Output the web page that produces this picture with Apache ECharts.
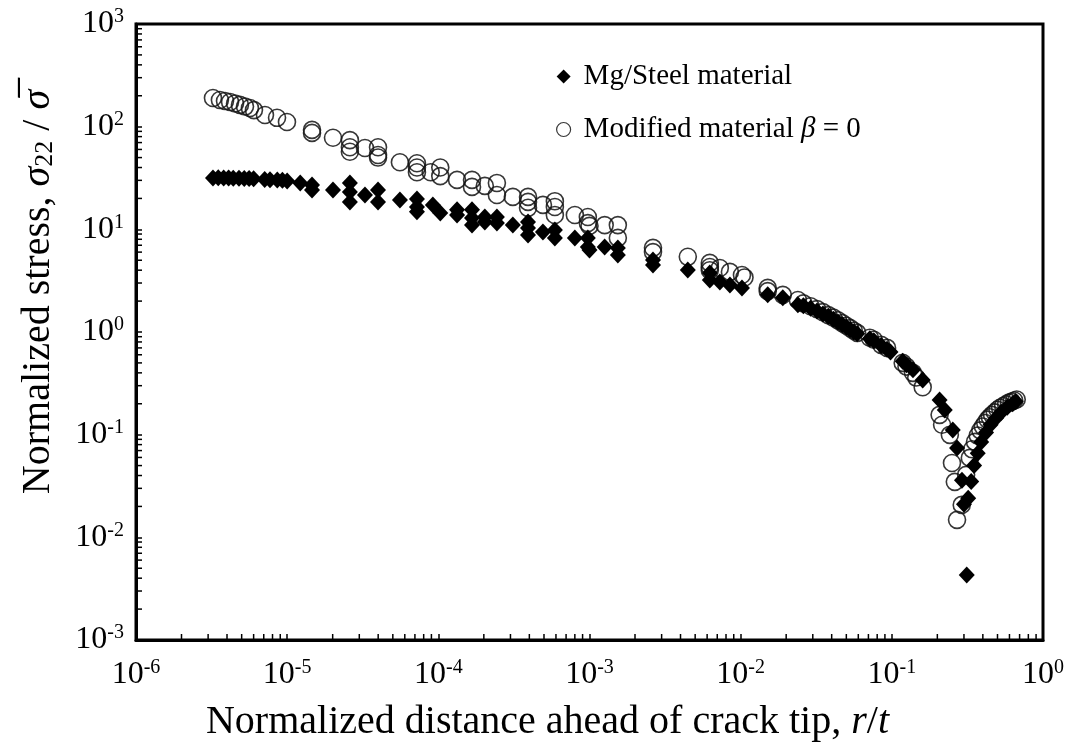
<!DOCTYPE html>
<html>
<head>
<meta charset="utf-8">
<script src="https://cdn.jsdelivr.net/npm/echarts@6/dist/echarts.min.js"></script>
<style>
  html, body { margin: 0; padding: 0; background: #fff; }
  #chart { width: 1073px; height: 755px; }
</style>
</head>
<body>
<div id="chart"></div>
<script>
// Normalized stress sigma_22 / sigma-bar ahead of the crack tip, vs r/t (log-log)

// Mg/Steel material
const mgX = [3.23e-6, 3.5e-6, 3.8e-6, 4.1e-6, 4.4e-6, 4.8e-6, 5.2e-6, 5.6e-6, 6.0e-6, 7.1e-6, 7.7e-6, 8.6e-6, 9.3e-6, 1.0e-5,
  1.22e-5, 1.46e-5, 1.46e-5, 2.01e-5, 2.6e-5, 2.6e-5, 2.6e-5, 3.27e-5, 3.99e-5, 3.99e-5, 5.57e-5, 7.22e-5, 7.22e-5, 7.22e-5,
  9.2e-5, 1.03e-4, 1.33e-4, 1.33e-4, 1.67e-4, 1.67e-4, 1.67e-4, 2.03e-4, 2.03e-4, 2.44e-4, 2.44e-4, 3.11e-4, 3.92e-4, 3.92e-4,
  3.92e-4, 4.92e-4, 5.9e-4, 5.9e-4, 8.0e-4, 9.75e-4, 9.75e-4, 1.0e-3, 1.26e-3, 1.54e-3, 1.54e-3, 2.63e-3, 2.63e-3, 4.47e-3,
  6.25e-3, 6.25e-3, 7.28e-3, 8.49e-3, 1.02e-2, 1.51e-2, 1.9e-2, 2.39e-2, 2.6e-2, 2.9e-2, 3.2e-2, 3.5e-2, 3.8e-2, 4.1e-2,
  4.4e-2, 4.7e-2, 5.0e-2, 5.3e-2, 5.6e-2, 5.9e-2, 7.15e-2, 7.6e-2, 8.5e-2, 9.3e-2, 9.8e-2, 0.118, 0.125, 0.138, 0.16,
  0.207, 0.224, 0.253, 0.27, 0.291, 0.313,
  0.30, 0.32, 0.335, 0.35, 0.37, 0.39, 0.42, 0.45, 0.49, 0.53, 0.58, 0.63, 0.66];
const mgY = [31.7, 31.8, 31.7, 31.6, 31.5, 31.4, 31.3, 31.2, 31.1, 30.5, 30.4, 30.3, 30.0, 29.5,
  28.3, 27.1, 24.2, 24.2, 28.3, 23.1, 18.5, 21.6, 24.2, 18.5, 19.3, 19.8, 16.5, 14.8,
  17.3, 14.4, 15.5, 13.8, 15.5, 12.9, 11.0, 13.2, 11.8, 13.2, 11.5, 11.0, 11.8, 10.3,
  8.82, 9.43, 9.86, 8.25, 8.25, 8.25, 6.74, 6.3, 6.74, 6.59, 5.63, 5.04, 4.5, 4.02,
  3.76, 3.21, 3.07, 2.87, 2.69, 2.30, 2.15, 1.84, 1.8, 1.7, 1.6, 1.5, 1.42, 1.33,
  1.25, 1.18, 1.12, 1.06, 1.0, 0.96, 0.86, 0.82, 0.74, 0.68, 0.64, 0.52, 0.48, 0.43, 0.34,
  0.218, 0.174, 0.111, 0.074, 0.036, 0.0043,
  0.021, 0.024, 0.035, 0.05, 0.066, 0.085, 0.105, 0.125, 0.145, 0.165, 0.185, 0.2, 0.21];

// Modified material, beta = 0
const modX = [3.23e-6, 3.59e-6, 3.88e-6, 4.19e-6, 4.52e-6, 4.87e-6, 5.26e-6, 5.67e-6, 6.03e-6, 7.13e-6, 8.57e-6, 9.97e-6,
  1.46e-5, 1.46e-5, 2.01e-5, 2.6e-5, 2.6e-5, 2.6e-5, 3.27e-5, 3.99e-5, 3.99e-5, 3.99e-5, 5.57e-5, 7.22e-5, 7.22e-5, 7.22e-5,
  8.9e-5, 1.03e-4, 1.03e-4, 1.33e-4, 1.67e-4, 1.67e-4, 2.03e-4, 2.44e-4, 2.44e-4, 3.11e-4, 3.92e-4, 3.92e-4, 3.92e-4,
  4.92e-4, 5.9e-4, 5.9e-4, 5.9e-4, 8.0e-4, 9.75e-4, 9.75e-4, 1.0e-3, 1.26e-3, 1.54e-3, 1.54e-3, 2.63e-3, 2.63e-3,
  4.47e-3, 6.25e-3, 6.25e-3, 6.25e-3, 7.28e-3, 8.49e-3, 1.02e-2, 1.06e-2, 1.51e-2, 1.51e-2, 1.9e-2, 2.39e-2,
  2.6e-2, 2.9e-2, 3.2e-2, 3.5e-2, 3.8e-2, 4.1e-2, 4.4e-2, 4.7e-2, 5.0e-2, 5.3e-2, 5.6e-2, 5.9e-2,
  7.15e-2, 7.6e-2, 8.5e-2, 9.3e-2, 0.118, 0.125, 0.138, 0.145, 0.16,
  0.207, 0.215, 0.242, 0.25, 0.261, 0.27,
  0.29, 0.31, 0.328, 0.34, 0.355, 0.37, 0.385, 0.40, 0.415, 0.43, 0.445, 0.46, 0.48, 0.50, 0.52, 0.545, 0.57, 0.595, 0.62, 0.645, 0.67];
const modY = [190, 182, 178, 174, 168, 163, 157, 152, 145, 130, 122, 111,
  93, 87, 78, 74, 63, 57, 62, 63, 53, 50, 45, 44, 40, 36,
  36, 40, 33, 30.3, 30.3, 25.9, 26.5, 28.3, 21.6, 20.7, 20.7, 18.5, 16.2,
  17.3, 18.8, 16.5, 13.8, 13.8, 13.2, 11.5, 10.8, 11.0, 11.0, 8.25, 6.6, 6.0,
  5.4, 4.71, 4.3, 4.0, 4.2, 3.85, 3.59, 3.4, 2.69, 2.5, 2.3, 2.05,
  1.9, 1.78, 1.67, 1.56, 1.46, 1.38, 1.3, 1.22, 1.15, 1.09, 1.03, 0.98,
  0.88, 0.84, 0.75, 0.7, 0.5, 0.46, 0.4, 0.36, 0.29,
  0.156, 0.125, 0.0996, 0.053, 0.0347, 0.0148,
  0.0207, 0.0406, 0.0594, 0.072, 0.085, 0.098, 0.11, 0.12, 0.13, 0.14, 0.148, 0.156, 0.165, 0.175, 0.183, 0.19, 0.198, 0.205, 0.21, 0.215, 0.22];

// Axis ranges (decades)
const xDecades = [-6, -5, -4, -3, -2, -1, 0];
const yDecades = [-3, -2, -1, 0, 1, 2, 3];
const minorSteps = [2, 3, 4, 5, 6, 7, 8, 9];

const xMin = Math.pow(10, xDecades[0]), xMax = Math.pow(10, xDecades[xDecades.length - 1]);
const yMin = Math.pow(10, yDecades[0]), yMax = Math.pow(10, yDecades[yDecades.length - 1]);

const xMinorVals = [];
xDecades.slice(0, -1).forEach(e => minorSteps.forEach(k => xMinorVals.push(k * Math.pow(10, e))));
const yMinorVals = [];
yDecades.slice(0, -1).forEach(e => minorSteps.forEach(k => yMinorVals.push(k * Math.pow(10, e))));

const FONT = '"Liberation Serif", "Times New Roman", serif';

function zip(xs, ys) { return xs.map((x, i) => [x, ys[i]]); }

function powLabel(v) {
  const e = Math.round(Math.log10(v));
  return '{b|10}{s|' + e + '}';
}

const labelRich = {
  b: { fontFamily: FONT, fontSize: 32, color: '#000', lineHeight: 34 },
  s: { fontFamily: FONT, fontSize: 20, color: '#000', verticalAlign: 'top', lineHeight: 20 }
};

const chart = echarts.init(document.getElementById('chart'), null, { renderer: 'canvas' });

const TICK = 6;

chart.setOption({
  animation: false,
  backgroundColor: '#fff',
  grid: {
    left: 136, right: 30, top: 24, bottom: 115,
    show: true, borderColor: '#000', borderWidth: 3, backgroundColor: 'transparent'
  },
  legend: {
    orient: 'vertical',
    left: 551, top: 57,
    itemWidth: 14, itemHeight: 14, itemGap: 24,
    data: [
      { name: 'Mg/Steel material', icon: 'diamond' },
      { name: 'Modified material β = 0', icon: 'circle', itemStyle: { borderWidth: 1.2 } }
    ],
    formatter: function (name) {
      if (name.indexOf('β') >= 0) return '{t|Modified material }{i|β}{t| = 0}';
      return '{t|' + name + '}';
    },
    textStyle: {
      fontFamily: FONT, fontSize: 29, color: '#000', padding: [0, 0, 0, 8],
      rich: {
        t: { fontFamily: FONT, fontSize: 29, color: '#000' },
        i: { fontFamily: FONT, fontSize: 29, color: '#000', fontStyle: 'italic' }
      }
    }
  },
  xAxis: {
    type: 'log', logBase: 10, min: xMin, max: xMax,
    name: '{t|Normalized distance ahead of crack tip, }{i|r}{t|/}{i|t}',
    nameLocation: 'middle', nameGap: 62,
    nameTextStyle: {
      padding: [0, 84, 0, 0],
      rich: {
        t: { fontFamily: FONT, fontSize: 40, color: '#000' },
        i: { fontFamily: FONT, fontSize: 40, color: '#000', fontStyle: 'italic' }
      }
    },
    axisLine: { show: true, lineStyle: { color: '#000', width: 3 } },
    axisTick: { show: true, inside: true, length: TICK, lineStyle: { color: '#000', width: 1.5 } },
    splitLine: { show: false },
    axisLabel: { margin: 18, formatter: powLabel, rich: labelRich }
  },
  yAxis: {
    type: 'log', logBase: 10, min: yMin, max: yMax,
    name: '{t|Normalized stress, }{i|σ}{sub|22}{t| / }{i|σ\u0305}',
    nameLocation: 'middle', nameGap: 78, nameRotate: 90,
    nameTextStyle: {
      padding: [0, 0, 0, 80],
      rich: {
        t: { fontFamily: FONT, fontSize: 40, color: '#000' },
        i: { fontFamily: FONT, fontSize: 40, color: '#000', fontStyle: 'italic' },
        sub: { fontFamily: FONT, fontSize: 26, color: '#000', verticalAlign: 'bottom', lineHeight: 26 }
      }
    },
    axisLine: { show: true, lineStyle: { color: '#000', width: 3 } },
    axisTick: { show: true, inside: true, length: TICK, lineStyle: { color: '#000', width: 1.5 } },
    splitLine: { show: false },
    axisLabel: { margin: 12, formatter: powLabel, rich: labelRich }
  },
  series: [
    {
      name: 'Modified material β = 0',
      type: 'scatter',
      data: zip(modX, modY),
      symbol: 'circle',
      symbolSize: 17,
      itemStyle: { color: 'rgba(255,255,255,0)', borderColor: 'rgba(20,20,20,0.85)', borderWidth: 1.6, opacity: 1 },
      z: 2
    },
    {
      name: 'Mg/Steel material',
      type: 'scatter',
      data: zip(mgX, mgY),
      symbol: 'diamond',
      symbolSize: [16, 17],
      itemStyle: { color: '#000', opacity: 1 },
      z: 3
    },
    {
      // minor ticks on the bottom axis (2..9 per decade)
      type: 'custom',
      silent: true,
      clip: false,
      data: xMinorVals.map(v => [v, yMin]),
      renderItem: function (params, api) {
        const p = api.coord([api.value(0), api.value(1)]);
        return {
          type: 'line',
          shape: { x1: p[0], y1: p[1], x2: p[0], y2: p[1] - TICK },
          style: { stroke: '#000', lineWidth: 1.5 }
        };
      },
      z: 5
    },
    {
      // minor ticks on the left axis (2..9 per decade)
      type: 'custom',
      silent: true,
      clip: false,
      data: yMinorVals.map(v => [xMin, v]),
      renderItem: function (params, api) {
        const p = api.coord([api.value(0), api.value(1)]);
        return {
          type: 'line',
          shape: { x1: p[0], y1: p[1], x2: p[0] + TICK, y2: p[1] },
          style: { stroke: '#000', lineWidth: 1.5 }
        };
      },
      z: 5
    }
  ]
});
</script>
</body>
</html>
